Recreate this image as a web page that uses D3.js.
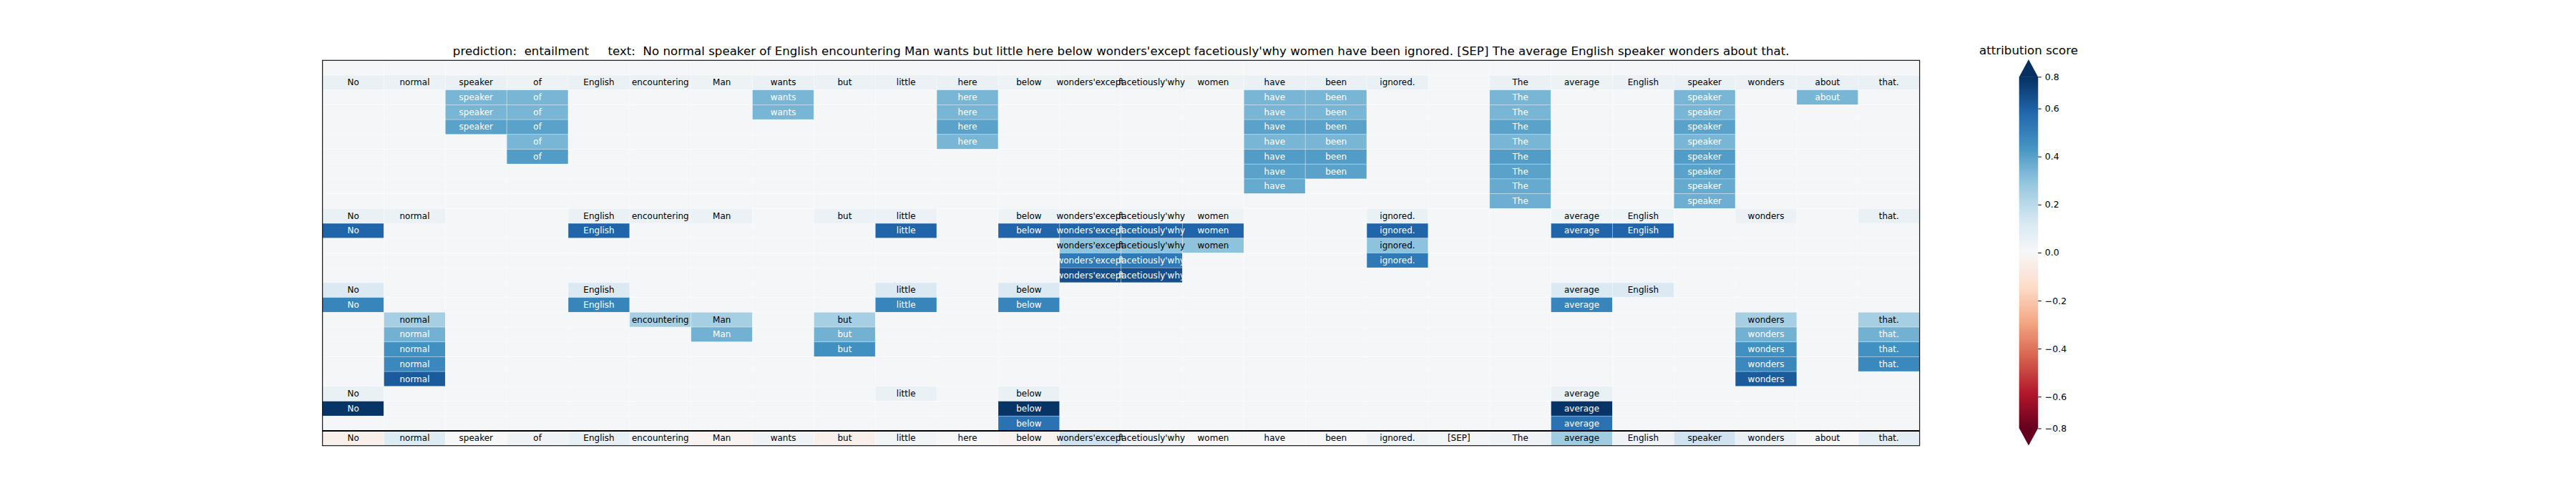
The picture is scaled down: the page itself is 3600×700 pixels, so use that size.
<!DOCTYPE html>
<html>
<head>
<meta charset="utf-8">
<script src="https://cdn.jsdelivr.net/npm/d3@7"></script>
<style>
  body { margin: 0; background: #ffffff; }
  svg { display: block; }
  text { font-family: "DejaVu Sans", sans-serif; }
</style>
</head>
<body>
<svg id="chart" width="3600" height="700"></svg>
<script>
// ---------------- data ----------------
const tokens = ["No","normal","speaker","of","English","encountering","Man","wants","but","little","here","below","wonders'except","facetiously'why","women","have","been","ignored.","[SEP]","The","average","English","speaker","wonders","about","that."];
const predictionLabel = "entailment";

// hierarchical levels: each level lists [token index, attribution score]
const levels = [
  [],
  [[0,0.05],[1,0.045],[2,0.05],[3,0.04],[4,0.05],[5,0.045],[6,0.04],[7,0.05],[8,0.045],[9,0.045],[10,0.05],[11,0.035],[12,0.04],[13,0.04],[14,0.04],[15,0.05],[16,0.05],[17,0.05],[19,0.05],[20,0.04],[21,0.045],[22,0.05],[23,0.045],[24,0.05],[25,0.05]],
  [[2,0.34],[3,0.34],[7,0.34],[10,0.34],[15,0.34],[16,0.34],[19,0.34],[22,0.34],[24,0.34]],
  [[2,0.34],[3,0.34],[7,0.34],[10,0.34],[15,0.34],[16,0.34],[19,0.34],[22,0.34]],
  [[2,0.395],[3,0.395],[10,0.395],[15,0.395],[16,0.395],[19,0.395],[22,0.395]],
  [[3,0.34],[10,0.34],[15,0.34],[16,0.34],[19,0.34],[22,0.34]],
  [[3,0.412],[15,0.412],[16,0.412],[19,0.412],[22,0.412]],
  [[15,0.395],[16,0.395],[19,0.395],[22,0.395]],
  [[15,0.373],[19,0.373],[22,0.373]],
  [[19,0.359],[22,0.359]],
  [[0,0.05],[1,0.045],[4,0.05],[5,0.045],[6,0.045],[8,0.045],[9,0.045],[11,0.04],[12,0.04],[13,0.04],[14,0.04],[17,0.05],[20,0.035],[21,0.035],[23,0.045],[25,0.05]],
  [[0,0.59],[4,0.59],[9,0.59],[11,0.59],[12,0.59],[13,0.59],[14,0.59],[17,0.59],[20,0.59],[21,0.59]],
  [[12,0.30],[13,0.30],[14,0.30],[17,0.30]],
  [[12,0.524],[13,0.524],[17,0.524]],
  [[12,0.65],[13,0.65]],
  [[0,0.11],[4,0.11],[9,0.11],[11,0.11],[20,0.11],[21,0.11]],
  [[0,0.485],[4,0.485],[9,0.485],[11,0.485],[20,0.485]],
  [[1,0.245],[5,0.245],[6,0.245],[8,0.245],[23,0.245],[25,0.245]],
  [[1,0.35],[6,0.35],[8,0.35],[23,0.35],[25,0.35]],
  [[1,0.45],[8,0.45],[23,0.45],[25,0.45]],
  [[1,0.476],[23,0.476],[25,0.476]],
  [[1,0.616],[23,0.616]],
  [[0,0.05],[9,0.05],[11,0.05],[20,0.05]],
  [[0,0.72],[11,0.72],[20,0.72]],
  [[11,0.546],[20,0.546]]
];

// overall attribution per token (bottom row)
const overallScores = [-0.04,0.10,0.0,0.03,0.06,0.03,-0.02,0.03,-0.04,0.02,0.0,-0.02,0.15,0.03,0.0,0.0,0.0,0.03,0.02,0.03,0.26,0.03,0.15,0.05,0.0,0.07];

const emptyScore = 0.01;
const colorLimit = 0.732;
const colorbarTicks = [-0.732,-0.6,-0.4,-0.2,0.0,0.2,0.4,0.6,0.732];
const colorbarTickLabels = ["\u22120.8","\u22120.6","\u22120.4","\u22120.2","0.0","0.2","0.4","0.6","0.8"];
const whiteTextAbove = 0.32;

// ---------------- drawing ----------------
const svg = d3.select("#chart");
svg.append("rect").attr("width",3600).attr("height",700).attr("fill","#ffffff");

const plot = {left: 450.7, right: 2682.7, top: 84.3, bottom: 622.7};
const nRows = levels.length + 1;
const x = d3.scaleBand().domain(d3.range(tokens.length)).range([plot.left, plot.right]);
const y = d3.scaleBand().domain(d3.range(nRows)).range([plot.top, plot.bottom]);

const rdbu = d3.piecewise(d3.interpolateRgb, d3.schemeRdBu[11]);
const norm = d3.scaleLinear().domain([-colorLimit, colorLimit]).range([0,1]).clamp(true);
const color = v => rdbu(norm(v));

// build cell list
const cells = [];
levels.forEach((lvl, r) => {
  const m = new Map(lvl);
  tokens.forEach((t, c) => {
    const v = m.has(c) ? m.get(c) : null;
    cells.push({r, c, v, label: v === null ? null : t});
  });
});
tokens.forEach((t, c) => cells.push({r: levels.length, c, v: overallScores[c], label: t}));

const g = svg.append("g");
g.selectAll("rect.cell").data(cells).join("rect")
  .attr("class","cell")
  .attr("x", d => x(d.c))
  .attr("y", d => y(d.r))
  .attr("width", x.bandwidth())
  .attr("height", y.bandwidth())
  .attr("fill", d => color(d.v === null ? emptyScore : d.v))
  .attr("stroke", "#ffffff")
  .attr("stroke-opacity", 0.35)
  .attr("stroke-width", 0.8);

g.selectAll("text.lbl").data(cells.filter(d => d.label !== null)).join("text")
  .attr("class","lbl")
  .attr("x", d => x(d.c) + x.bandwidth()/2)
  .attr("y", d => y(d.r) + y.bandwidth()/2)
  .attr("text-anchor","middle")
  .attr("dominant-baseline","central")
  .attr("font-size", 12)
  .attr("fill", d => d.v > whiteTextAbove ? "#ffffff" : "#000000")
  .text(d => d.label);

// separator above overall row
g.append("line")
  .attr("x1", plot.left).attr("x2", plot.right)
  .attr("y1", y(levels.length)).attr("y2", y(levels.length))
  .attr("stroke","#000").attr("stroke-width",2.2);

// frame
g.append("rect")
  .attr("x", plot.left).attr("y", plot.top)
  .attr("width", plot.right - plot.left).attr("height", plot.bottom - plot.top)
  .attr("fill","none").attr("stroke","#000").attr("stroke-width",1.1);

// main title
svg.append("text")
  .attr("x", (plot.left + plot.right)/2)
  .attr("y", 76.5)
  .attr("text-anchor","middle")
  .attr("font-size", 16.67)
  .style("white-space","pre")
  .text(`prediction:  ${predictionLabel}     text:  ${tokens.join(" ")}`);

// ---------------- colorbar ----------------
const cb = {x: 2821.7, w: 26.6, top: 107.3, bottom: 598.5, tipTop: 83, tipBottom: 622.5};
const cbY = d3.scaleLinear().domain([-colorLimit, colorLimit]).range([cb.bottom, cb.top]);

const defs = svg.append("defs");
const grad = defs.append("linearGradient").attr("id","cbgrad")
  .attr("x1",0).attr("y1",1).attr("x2",0).attr("y2",0);
d3.schemeRdBu[11].forEach((c,i,arr) => {
  grad.append("stop").attr("offset", i/(arr.length-1)).attr("stop-color", c);
});

const cbg = svg.append("g");
cbg.append("rect")
  .attr("x", cb.x).attr("y", cbY(colorLimit))
  .attr("width", cb.w).attr("height", cbY(-colorLimit) - cbY(colorLimit))
  .attr("fill","url(#cbgrad)");
cbg.append("polygon")
  .attr("points", [[cb.x, cbY(colorLimit)+0.5],[cb.x+cb.w, cbY(colorLimit)+0.5],[cb.x+cb.w/2, cb.tipTop]].map(p=>p.join(",")).join(" "))
  .attr("fill", color(colorLimit));
cbg.append("polygon")
  .attr("points", [[cb.x, cbY(-colorLimit)-0.5],[cb.x+cb.w, cbY(-colorLimit)-0.5],[cb.x+cb.w/2, cb.tipBottom]].map(p=>p.join(",")).join(" "))
  .attr("fill", color(-colorLimit));

const cbAxis = d3.axisRight(cbY)
  .tickValues(colorbarTicks)
  .tickFormat((d,i) => colorbarTickLabels[i])
  .tickSize(4.5).tickPadding(5);
const axG = svg.append("g").attr("transform", `translate(${cb.x + cb.w},0)`).call(cbAxis);
axG.select(".domain").remove();
axG.selectAll("line").attr("stroke","#000").attr("stroke-width",1);
axG.selectAll("text").attr("font-size",12.5).attr("font-family","DejaVu Sans").attr("fill","#000");

svg.append("text")
  .attr("x", cb.x + cb.w/2)
  .attr("y", 76)
  .attr("text-anchor","middle")
  .attr("font-size", 16.67)
  .text("attribution score");
</script>
</body>
</html>
